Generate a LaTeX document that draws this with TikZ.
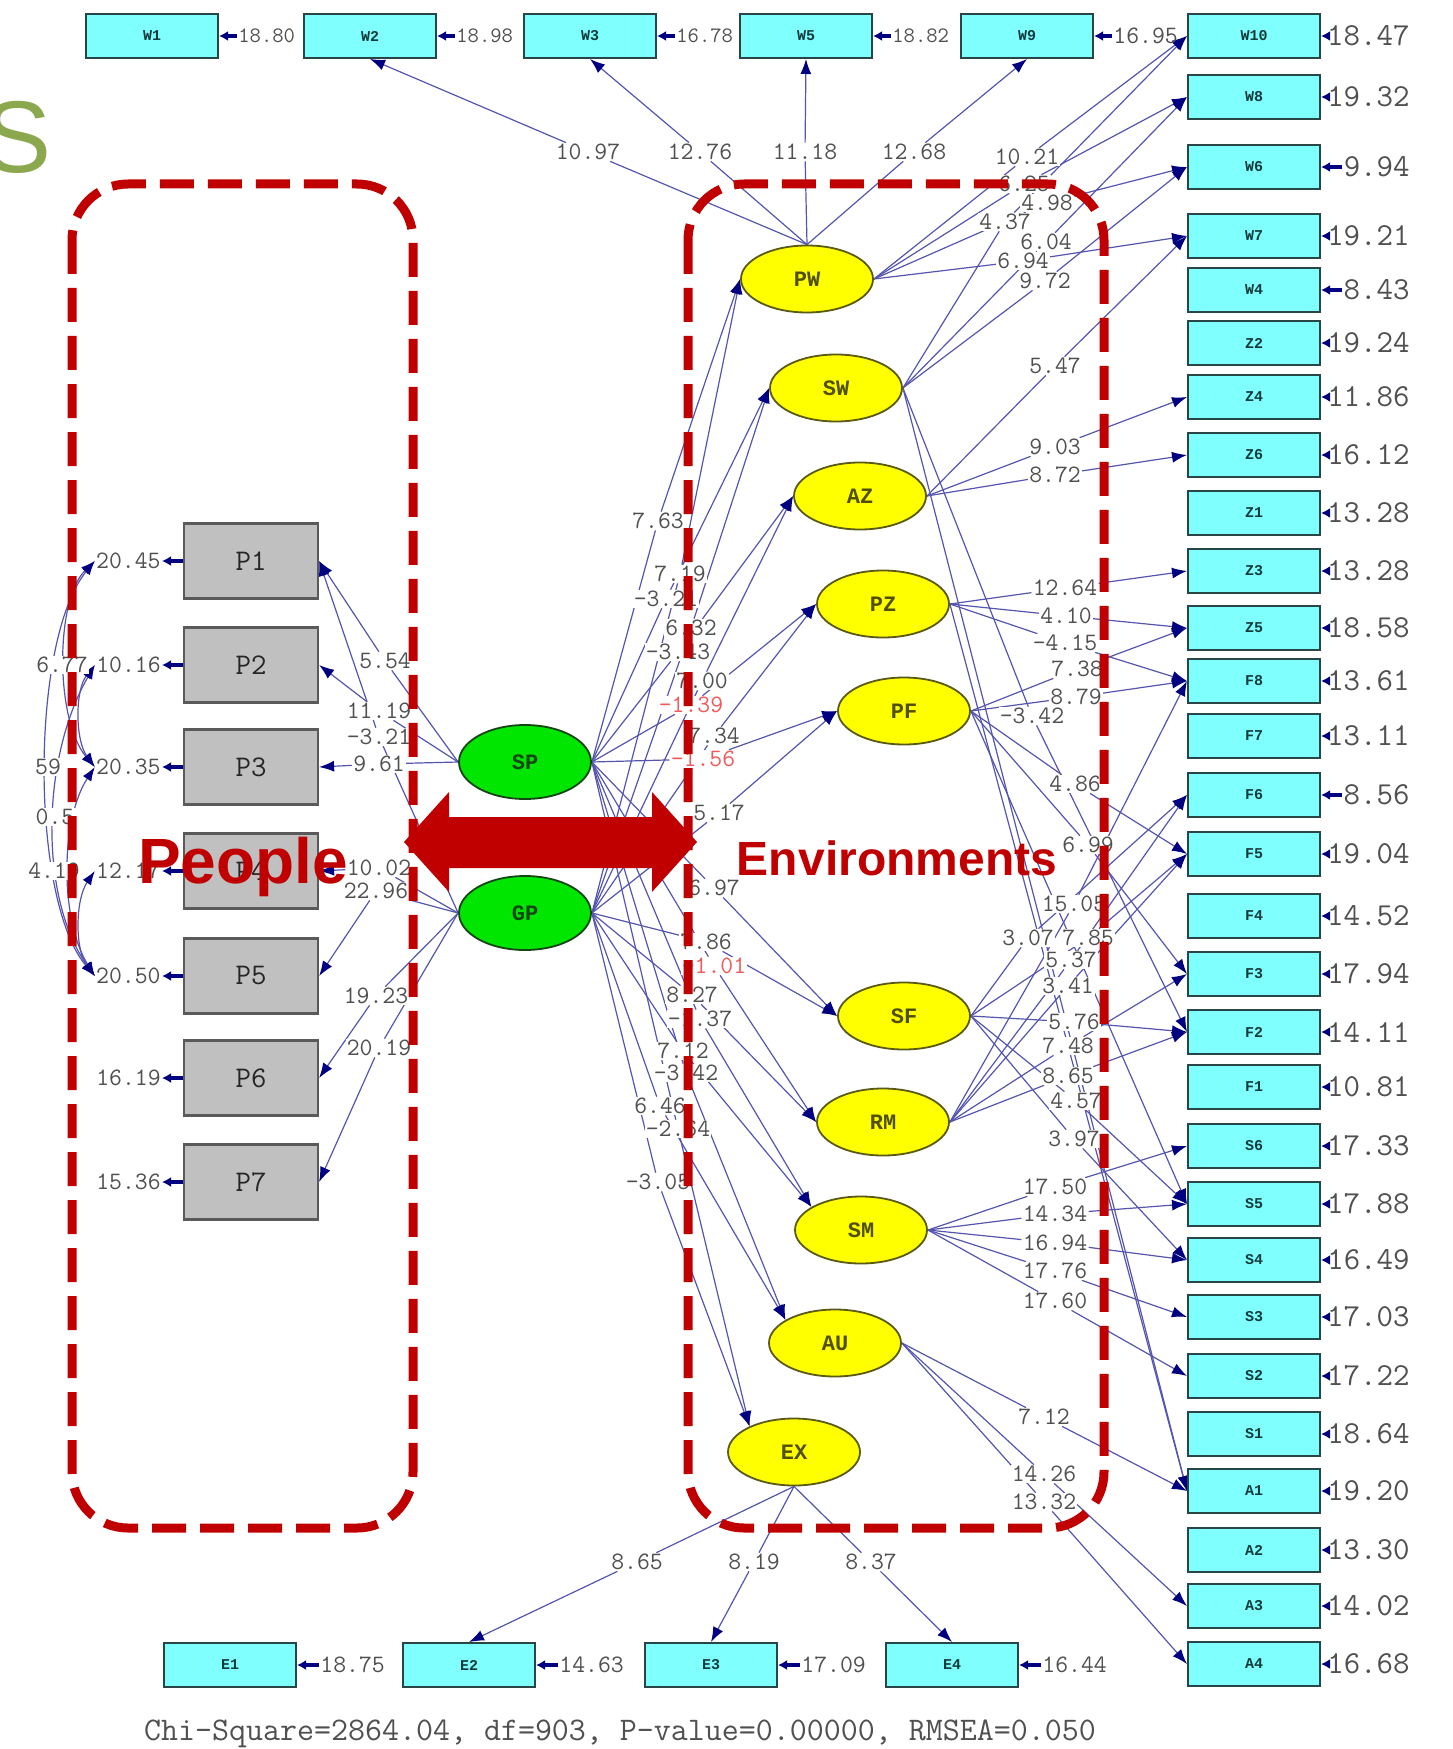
\documentclass[tikz,border=0pt]{standalone}
\usepackage{fontspec}
\usetikzlibrary{shapes.geometric,arrows.meta}
\newfontfamily\sansfam{Liberation Sans}
\newfontfamily\monobold{Liberation Mono}

\definecolor{obsfill}{RGB}{128,255,255}
\definecolor{boxedge}{RGB}{40,70,70}
\definecolor{boxtext}{RGB}{20,60,60}
\definecolor{pfill}{RGB}{192,192,192}
\definecolor{pedge}{RGB}{90,90,90}
\definecolor{latfill}{RGB}{255,255,0}
\definecolor{latedge}{RGB}{90,90,20}
\definecolor{lattext}{RGB}{80,80,0}
\definecolor{exofill}{RGB}{0,230,0}
\definecolor{exoedge}{RGB}{20,70,20}
\definecolor{pathc}{RGB}{85,85,175}
\definecolor{tipc}{RGB}{0,0,128}
\definecolor{numc}{RGB}{80,80,80}
\definecolor{negc}{RGB}{240,90,90}
\definecolor{redc}{RGB}{192,0,0}
\definecolor{olivec}{RGB}{140,168,78}

\pgfdeclarelayer{bg}
\pgfdeclarelayer{fg}
\pgfsetlayers{bg,main,fg}

% labelled path: source -> value label -> target
\newcommand\viapath[6][val]{%
  \node[#1] (#3) at (#4) {#5};
  \begin{pgfonlayer}{bg}
    \draw[ln] (#2) -- (#3);
    \draw[lnar] (#3) -- (#6);
  \end{pgfonlayer}}

\tikzset{
  obs/.style={rectangle, draw=boxedge, line width=1pt, fill=obsfill,
    minimum width=66pt, minimum height=22pt, inner sep=0pt,
    font=\monobold\bfseries\fontsize{7.5}{8}\selectfont, text=boxtext},
  pbox/.style={rectangle, draw=pedge, line width=1.1pt, fill=pfill,
    minimum width=67pt, minimum height=37.5pt, inner sep=0pt,
    font=\ttfamily\fontsize{15}{15}\selectfont, text=black!85},
  latent/.style={ellipse, draw=latedge, line width=0.9pt, fill=latfill,
    minimum width=66pt, minimum height=33.5pt, inner sep=0pt,
    font=\monobold\bfseries\fontsize{11}{11}\selectfont, text=lattext},
  exo/.style={latent, fill=exofill, draw=exoedge, minimum height=37pt, text=exoedge},
  val/.style={font=\ttfamily\fontsize{12.5}{12.5}\selectfont, text=numc,
    inner sep=0.5pt, fill=white},
  negval/.style={val, text=negc},
  rnum/.style={font=\ttfamily\fontsize{16}{16}\selectfont, text=numc,
    inner sep=0.5pt, anchor=east},
  tnum/.style={font=\ttfamily\fontsize{11}{11}\selectfont, text=numc,
    inner sep=0.5pt, anchor=west},
  ln/.style={draw=pathc, line width=0.6pt},
  lnar/.style={ln, -{Latex[length=7.5pt,width=5.5pt,color=tipc]}},
  errar/.style={draw=tipc, line width=1.8pt, -{Latex[length=4.5pt,width=5pt]}},
  corr/.style={ln, {Latex[length=7pt,width=5pt,color=tipc]}-{Latex[length=7pt,width=5pt,color=tipc]}},
  redbox/.style={draw=redc, line width=4.5pt, dash pattern=on 17pt off 7pt,
    rounded corners=28pt},
}

\begin{document}
\begin{tikzpicture}[x=0.5pt,y=-0.5pt]
\useasboundingbox (0,0) rectangle (1452,1749);
\begin{pgfonlayer}{bg}
\fill[white] (0,0) rectangle (1452,1749);
\end{pgfonlayer}

% title fragment
\node[font=\sansfam\fontsize{51}{51}\selectfont, text=olivec, anchor=base east,
  inner sep=0pt] (bigS) at (52,173) {S};

% top row of indicators
\foreach \n/\x in {W1/152,W2/370,W3/590,W5/806,W9/1027,W10/1254}
  \node[obs] (\n) at (\x,36) {\n};

% right column of indicators
\foreach \n/\y in {W8/97,W6/167,W7/236,W4/290,Z2/343,Z4/397,Z6/455,Z1/513,
  Z3/571,Z5/628,F8/681,F7/736,F6/795,F5/854,F4/916,F3/974,F2/1032,F1/1087,
  S6/1146,S5/1204,S4/1260,S3/1317,S2/1376,S1/1434,A1/1491,A2/1550,A3/1606,A4/1664}
  \node[obs] (\n) at (1254,\y) {\n};

% bottom row
\foreach \n/\x in {E1/230,E2/469,E3/711,E4/952}
  \node[obs] (\n) at (\x,1665) {\n};

% people indicators
\foreach \n/\y in {P1/561,P2/665,P3/767,P4/871,P5/976,P6/1078,P7/1182}
  \node[pbox] (\n) at (251,\y) {\n};

% latent variables
\node[exo] (SP) at (525,762) {SP};
\node[exo] (GP) at (525,913) {GP};
\node[latent] (PW) at (807,279) {PW};
\node[latent] (SW) at (836,388) {SW};
\node[latent] (AZ) at (860,496) {AZ};
\node[latent] (PZ) at (883,604) {PZ};
\node[latent] (PF) at (904,711) {PF};
\node[latent] (SF) at (904,1016) {SF};
\node[latent] (RM) at (883,1122) {RM};
\node[latent] (SM) at (861,1230) {SM};
\node[latent] (AU) at (835,1343) {AU};
\node[latent] (EX) at (794,1452) {EX};

% error variances, top row
\foreach \n/\v in {W1/18.80,W2/18.98,W3/16.78,W5/18.82}{
  \node[tnum] (e\n) at ([xshift=9pt]\n.east) {\v};
  \draw[errar] (e\n.west) -- (\n.east);}
\node[tnum, font=\ttfamily\fontsize{12.5}{12.5}\selectfont] (eW9) at ([xshift=9pt]W9.east) {16.95};
\draw[errar] (eW9.west) -- (W9.east);

% error variances, right column
\foreach \n/\v in {W10/18.47,W8/19.32,W6/9.94,W7/19.21,W4/8.43,Z2/19.24,Z4/11.86,
  Z6/16.12,Z1/13.28,Z3/13.28,Z5/18.58,F8/13.61,F7/13.11,F6/8.56,F5/19.04,F4/14.52,
  F3/17.94,F2/14.11,F1/10.81,S6/17.33,S5/17.88,S4/16.49,S3/17.03,S2/17.22,S1/18.64,
  A1/19.20,A2/13.30,A3/14.02,A4/16.68}{
  \node[rnum] (e\n) at (1411,0 |- \n.center) {\v};
  \draw[errar] (e\n.west) -- (\n.east);}

% error variances, bottom row
\foreach \n/\v in {E1/18.75,E2/14.63,E3/17.09,E4/16.44}{
  \node[val, fill=none, anchor=west] (e\n) at ([xshift=11pt]\n.east) {\v};
  \draw[errar] (e\n.west) -- (\n.east);}

% error variances, people indicators
\foreach \n/\v in {P1/20.45,P2/10.16,P3/20.35,P4/12.17,P5/20.50,P6/16.19,P7/15.36}{
  \node[val, fill=none, anchor=east] (e\n) at (162,0 |- \n.center) {\v};
  \draw[errar] (\n.west) -- (e\n.east);}

% correlated errors
\begin{pgfonlayer}{bg}
\draw[corr] (eP1.west) .. controls (55,600) and (55,720) .. (eP3.west);
\draw[corr] (eP1.west) .. controls (30,640) and (30,900) .. (eP5.west);
\draw[corr] (eP2.west) .. controls (75,690) and (75,740) .. (eP3.west);
\draw[corr] (eP2.west) .. controls (40,760) and (40,900) .. (eP5.west);
\draw[corr] (eP3.west) .. controls (60,820) and (60,920) .. (eP5.west);
\draw[corr] (eP4.west) .. controls (75,900) and (75,950) .. (eP5.west);
\end{pgfonlayer}
\node[val] (cA) at (62,665) {6.77};
\node[val] (cB) at (48,767) {59};
\node[val] (cC) at (55,817) {0.5};
\node[val] (cD) at (54,871) {4.19};

% people loadings
\viapath{SP.west}{a1}{385,661}{5.54}{P1.east}
\viapath{SP.west}{a2}{379,711}{11.19}{P2.east}
\viapath{GP.west}{a3}{379,737}{-3.21}{P1.east}
\viapath{SP.west}{a4}{379,764}{9.61}{P3.east}
\viapath{GP.west}{b1}{379,868}{10.02}{P4.east}
\viapath{GP.west}{b2}{376,891}{22.96}{P5.east}
\viapath{GP.west}{b3}{376,996}{19.23}{P6.east}
\viapath{GP.west}{b4}{379,1048}{20.19}{P7.east}

% structural paths
\viapath{SP.east}{s1}{658,521}{7.63}{PW.west}
\viapath{GP.east}{g1}{680,574}{7.19}{PW.west}
\viapath{SP.east}{s2}{666,599}{-3.21}{SW.west}
\viapath{GP.east}{g2}{691,628}{6.32}{SW.west}
\viapath{SP.east}{s3}{678,652}{-3.43}{AZ.west}
\viapath{GP.east}{g3}{702,681}{7.00}{AZ.west}
\viapath[negval]{SP.east}{s4}{691,705}{-1.39}{PZ.west}
\viapath{GP.east}{g4}{714,736}{7.34}{PZ.west}
\viapath[negval]{SP.east}{s5}{703,759}{-1.56}{PF.west}
\viapath{GP.east}{g5}{719,813}{5.17}{PF.west}
\viapath{SP.east}{s6}{714,888}{6.97}{SF.west}
\viapath{GP.east}{g6}{706,942}{7.86}{SF.west}
\viapath[negval]{SP.east}{s7}{714,966}{-1.01}{RM.west}
\viapath{GP.east}{g7}{692,995}{8.27}{RM.west}
\viapath{SP.east}{s8}{700,1019}{-1.37}{SM.155}
\viapath{GP.east}{g8}{683,1051}{7.12}{SM.155}
\viapath{SP.east}{s9}{686,1073}{-3.42}{AU.155}
\viapath{GP.east}{g9}{660,1106}{6.46}{AU.155}
\viapath{SP.east}{s10}{678,1129}{-2.64}{EX.150}
\viapath{GP.east}{g10}{658,1182}{-3.05}{EX.150}

% environment loadings, top
\viapath{PW.north}{tA}{588,152}{10.97}{W2.south}
\viapath{PW.north}{tB}{700,152}{12.76}{W3.south}
\viapath{PW.north}{tC}{805,152}{11.18}{W5.south}
\viapath{PW.north}{tD}{914,152}{12.68}{W9.south}

% environment loadings, right
\viapath{PW.east}{rA}{1027,157}{10.21}{W10.west}
\viapath{PW.east}{rB}{1024,184}{6.25}{W8.west}
\viapath{PW.east}{rC}{1047,203}{4.98}{W6.west}
\viapath{SW.east}{rE}{1005,222}{4.37}{W10.west}
\viapath{SW.east}{rF}{1046,242}{6.04}{W8.west}
\viapath{PW.east}{rD}{1023,261}{6.94}{W7.west}
\viapath{SW.east}{rG}{1045,281}{9.72}{W6.west}
\viapath{AZ.east}{rH}{1055,366}{5.47}{W7.west}
\viapath{AZ.east}{rI}{1055,447}{9.03}{Z4.west}
\viapath{AZ.east}{rJ}{1055,475}{8.72}{Z6.west}
\viapath{PZ.east}{z1}{1065,588}{12.64}{Z3.west}
\viapath{PZ.east}{z2}{1066,616}{4.10}{Z5.west}
\viapath{PZ.east}{z3}{1065,643}{-4.15}{F8.west}
\viapath{PF.east}{f1}{1077,669}{7.38}{Z5.west}
\viapath{PF.east}{f2}{1076,697}{8.79}{F8.west}
\viapath{SW.east}{w1}{1032,716}{-3.42}{F2.west}
\viapath{PF.east}{f3}{1075,784}{4.86}{F5.west}
\viapath{PF.east}{f4}{1088,845}{6.99}{F3.west}
\viapath{RM.east}{m1}{1074,904}{15.05}{F8.west}
\viapath{SF.east}{n1}{1028,938}{3.07}{F6.west}
\viapath{SF.east}{n2}{1088,938}{7.85}{F5.west}
\viapath{RM.east}{m2}{1071,960}{5.37}{F6.west}
\viapath{RM.east}{m3}{1068,986}{3.41}{F5.west}
\viapath{SF.east}{n3}{1074,1022}{5.76}{F2.west}
\viapath{RM.east}{m4}{1068,1046}{7.48}{F3.west}
\viapath{RM.east}{m5}{1068,1076}{8.65}{F2.west}
\viapath{SF.east}{n4}{1076,1101}{4.57}{S5.west}
\viapath{SF.east}{n5}{1074,1139}{3.97}{S4.west}
\viapath{SM.east}{k1}{1055,1187}{17.50}{S6.west}
\viapath{SM.east}{k2}{1055,1214}{14.34}{S5.west}
\viapath{SM.east}{k3}{1055,1243}{16.94}{S4.west}
\viapath{SM.east}{k4}{1055,1271}{17.76}{S3.west}
\viapath{SM.east}{k5}{1055,1301}{17.60}{S2.west}
\viapath{AU.east}{u1}{1044,1417}{7.12}{A1.west}
\viapath{AU.east}{u2}{1044,1474}{14.26}{A3.west}
\viapath{AU.east}{u3}{1044,1502}{13.32}{A4.west}

% environment loadings, bottom
\viapath{EX.south}{x1}{637,1562}{8.65}{E2.north}
\viapath{EX.south}{x2}{754,1562}{8.19}{E3.north}
\viapath{EX.south}{x3}{871,1562}{8.37}{E4.north}

% long unlabelled paths
\begin{pgfonlayer}{bg}
\draw[lnar] (SW.east) -- (A1.west);
\draw[lnar] (PZ.east) -- (A1.west);
\draw[lnar] (PF.east) -- (S5.west);
\end{pgfonlayer}

% fit statistics
\node[font=\ttfamily\fontsize{16.5}{16.5}\selectfont, text=numc] (chi) at (620,1734)
  {Chi-Square=2864.04, df=903, P-value=0.00000, RMSEA=0.050};

% grouping frames and the two-way arrow
\begin{pgfonlayer}{fg}
\draw[redbox] (72,184) rectangle (413,1528);
\draw[redbox] (688,184) rectangle (1104,1528);
\fill[redc] (404,842) -- (449,792) -- (449,817) -- (652,817) -- (652,792) --
  (697,842) -- (652,892) -- (652,868) -- (449,868) -- (449,892) -- cycle;
\node[font=\sansfam\bfseries\fontsize{32}{32}\selectfont, text=redc, anchor=base,
  inner sep=0pt] (people) at (243,883) {People};
\node[font=\sansfam\bfseries\fontsize{24}{24}\selectfont, text=redc, anchor=base,
  inner sep=0pt] (envs) at (897,875) {Environments};
\end{pgfonlayer}
\end{tikzpicture}
\end{document}
